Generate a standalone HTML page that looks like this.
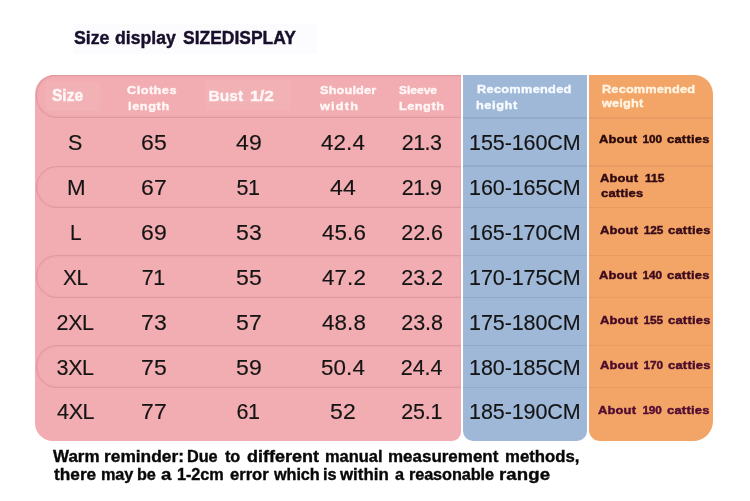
<!DOCTYPE html>
<html lang="en">
<head>
<meta charset="utf-8">
<title>Size display</title>
<style>
html,body{margin:0;padding:0;background:#fff;}
body{width:750px;height:501px;position:relative;overflow:hidden;font-family:'Liberation Sans',sans-serif;}
.abs{position:absolute;}
.g{margin:0;padding:0;font:inherit;}
.t{display:block;position:absolute;white-space:nowrap;line-height:normal;transform-origin:0 0;}
#titlebg{left:73px;top:24px;width:244px;height:30px;background:#fcfbfd;}
#pink{left:35.3px;top:75.3px;width:425.5px;height:365.3px;background:#f1adb1;border-radius:19px 0 9px 18px;}
#blue{left:463px;top:75.4px;width:123.9px;height:365.3px;background:#9fb8d8;border-radius:0 0 10px 10px;}
#orange{left:589.2px;top:75.3px;width:123.5px;height:365.3px;background:#f3a568;border-radius:0 19px 20px 11px;}
.pill{position:absolute;left:35.8px;width:425px;box-sizing:border-box;border:1px solid #e1979e;border-right:none;border-radius:21px 0 0 21px;box-shadow:inset 0 0 2px rgba(222,140,148,.45);}
.hl{position:absolute;height:1.3px;}
</style>
</head>
<body>
<div class="abs" id="titlebg"></div>
<div class="abs" id="pink"></div>
<div class="abs" id="blue"></div>
<div class="abs" id="orange"></div>
<div class="abs" style="left:46px;top:82px;width:54px;height:29px;background:rgba(255,255,255,.05)"></div>
<div class="abs" style="left:206px;top:80px;width:84px;height:30px;background:rgba(255,255,255,.05)"></div>
<div class="pill" style="top:75.3px;height:43.0px;border-top-left-radius:19px"></div>
<div class="pill" style="top:165.6px;height:42.5px"></div>
<div class="pill" style="top:255.3px;height:42.8px"></div>
<div class="pill" style="top:345.3px;height:42.8px"></div>
<div class="hl" style="left:463px;width:124px;top:117.25px;background:#94aaca"></div>
<div class="hl" style="left:589.3px;width:123.5px;top:117.25px;background:#e69c62"></div>
<div class="hl" style="left:463px;width:124px;top:165.45px;background:#94aaca"></div>
<div class="hl" style="left:589.3px;width:123.5px;top:165.45px;background:#e69c62"></div>
<div class="hl" style="left:463px;width:124px;top:207.05px;background:#94aaca"></div>
<div class="hl" style="left:589.3px;width:123.5px;top:207.05px;background:#e69c62"></div>
<div class="hl" style="left:463px;width:124px;top:255.15px;background:#94aaca"></div>
<div class="hl" style="left:589.3px;width:123.5px;top:255.15px;background:#e69c62"></div>
<div class="hl" style="left:463px;width:124px;top:297.05px;background:#94aaca"></div>
<div class="hl" style="left:589.3px;width:123.5px;top:297.05px;background:#e69c62"></div>
<div class="hl" style="left:463px;width:124px;top:345.15px;background:#94aaca"></div>
<div class="hl" style="left:589.3px;width:123.5px;top:345.15px;background:#e69c62"></div>
<div class="hl" style="left:463px;width:124px;top:387.05px;background:#94aaca"></div>
<div class="hl" style="left:589.3px;width:123.5px;top:387.05px;background:#e69c62"></div>
<h1 class="g">
<span class="t" style="left:74.10px;top:27.80px;font-size:17.6px;font-weight:700;letter-spacing:0.0px;color:#180f2c;transform:scaleX(1.006);-webkit-text-stroke:0.4px #180f2c">Size</span> 
<span class="t" style="left:114.95px;top:27.80px;font-size:17.6px;font-weight:700;letter-spacing:0.0px;color:#180f2c;transform:scaleX(1.005);-webkit-text-stroke:0.4px #180f2c">display</span> 
<span class="t" style="left:182.50px;top:27.80px;font-size:17.6px;font-weight:700;letter-spacing:0.0px;color:#180f2c;transform:scaleX(0.993);-webkit-text-stroke:0.4px #180f2c">SIZEDISPLAY</span>
</h1>
<div class="g">
<span class="t" style="left:51.70px;top:86.90px;font-size:16px;font-weight:700;letter-spacing:0.0px;color:#fff6f6;transform:scaleX(0.969);-webkit-text-stroke:0.45px #fff6f6">Size</span> 
<span class="t" style="left:127.35px;top:82.70px;font-size:11.6px;font-weight:700;letter-spacing:0.41px;color:#fff6f6;transform:scaleX(1.1);-webkit-text-stroke:0.38px #fff6f6">Clothes</span> 
<span class="t" style="left:128.10px;top:98.50px;font-size:11.6px;font-weight:700;letter-spacing:0.53px;color:#fff6f6;transform:scaleX(1.1);-webkit-text-stroke:0.38px #fff6f6">length</span> 
<span class="t" style="left:208.60px;top:86.80px;font-size:15.5px;font-weight:700;letter-spacing:0.0px;color:#fff6f6;-webkit-text-stroke:0.45px #fff6f6">Bust</span> 
<span class="t" style="left:250.20px;top:86.80px;font-size:15.5px;font-weight:700;letter-spacing:0.0px;color:#fff6f6;transform:scaleX(1.109);-webkit-text-stroke:0.45px #fff6f6">1/2</span> 
<span class="t" style="left:319.60px;top:82.70px;font-size:11.6px;font-weight:700;letter-spacing:0.12px;color:#fff6f6;transform:scaleX(1.1);-webkit-text-stroke:0.38px #fff6f6">Shoulder</span> 
<span class="t" style="left:319.50px;top:98.50px;font-size:11.6px;font-weight:700;letter-spacing:1.09px;color:#fff6f6;transform:scaleX(1.1);-webkit-text-stroke:0.38px #fff6f6">width</span> 
<span class="t" style="left:399.05px;top:82.70px;font-size:11.6px;font-weight:700;letter-spacing:0.0px;color:#fff6f6;transform:scaleX(1.035);-webkit-text-stroke:0.38px #fff6f6">Sleeve</span> 
<span class="t" style="left:399.05px;top:98.50px;font-size:11.6px;font-weight:700;letter-spacing:0.44px;color:#fff6f6;transform:scaleX(1.1);-webkit-text-stroke:0.38px #fff6f6">Length</span> 
<span class="t" style="left:476.85px;top:81.90px;font-size:11.6px;font-weight:700;letter-spacing:0.27px;color:#f8fbff;transform:scaleX(1.1);-webkit-text-stroke:0.38px #f8fbff">Recommended</span> 
<span class="t" style="left:476.40px;top:97.80px;font-size:11.6px;font-weight:700;letter-spacing:0.53px;color:#f8fbff;transform:scaleX(1.1);-webkit-text-stroke:0.38px #f8fbff">height</span> 
<span class="t" style="left:602.45px;top:81.80px;font-size:11.6px;font-weight:700;letter-spacing:0.15px;color:#fff4e2;transform:scaleX(1.1);-webkit-text-stroke:0.38px #fff4e2">Recommended</span> 
<span class="t" style="left:602.30px;top:96.20px;font-size:11.6px;font-weight:700;letter-spacing:0.16px;color:#fff4e2;transform:scaleX(1.1);-webkit-text-stroke:0.38px #fff4e2">weight</span>
</div>
<div class="g">
<span class="t" style="left:68.10px;top:131.00px;font-size:21.5px;font-weight:400;letter-spacing:0px;color:#141414;-webkit-text-stroke:0.15px #141414">S</span> 
<span class="t" style="left:140.80px;top:131.00px;font-size:21.5px;font-weight:400;letter-spacing:0.2px;color:#141414;transform:scaleX(1.07);-webkit-text-stroke:0.15px #141414">65</span> 
<span class="t" style="left:236.10px;top:131.00px;font-size:21.5px;font-weight:400;letter-spacing:0.2px;color:#141414;transform:scaleX(1.07);-webkit-text-stroke:0.15px #141414">49</span> 
<span class="t" style="left:321.30px;top:131.00px;font-size:21.5px;font-weight:400;letter-spacing:0.1px;color:#141414;transform:scaleX(1.04);-webkit-text-stroke:0.15px #141414">42.4</span> 
<span class="t" style="left:401.70px;top:131.00px;font-size:21.5px;font-weight:400;letter-spacing:-0.5px;color:#141414;-webkit-text-stroke:0.15px #141414">21.3</span> 
<span class="t" style="left:469.10px;top:131.00px;font-size:21.5px;font-weight:400;letter-spacing:-0.1px;color:#141414;-webkit-text-stroke:0.15px #141414">155-160CM</span> 
<span class="t" style="left:598.50px;top:132.30px;font-size:11.8px;font-weight:700;letter-spacing:0.11px;color:#2a0a0c;transform:scaleX(1.1);-webkit-text-stroke:0.42px #2a0a0c">About</span> 
<span class="t" style="left:642.50px;top:132.30px;font-size:11.8px;font-weight:700;letter-spacing:-0.1px;color:#2a0a0c;-webkit-text-stroke:0.42px #2a0a0c">100</span> 
<span class="t" style="left:667.20px;top:132.30px;font-size:11.8px;font-weight:700;letter-spacing:0.2px;color:#2a0a0c;transform:scaleX(1.1);-webkit-text-stroke:0.42px #2a0a0c">catties</span>
</div>
<div class="g">
<span class="t" style="left:66.60px;top:175.60px;font-size:21.5px;font-weight:400;letter-spacing:0px;color:#141414;transform:scaleX(1.04);-webkit-text-stroke:0.15px #141414">M</span> 
<span class="t" style="left:140.80px;top:175.60px;font-size:21.5px;font-weight:400;letter-spacing:0.2px;color:#141414;transform:scaleX(1.07);-webkit-text-stroke:0.15px #141414">67</span> 
<span class="t" style="left:236.60px;top:175.60px;font-size:21.5px;font-weight:400;letter-spacing:-0.6px;color:#141414;-webkit-text-stroke:0.15px #141414">51</span> 
<span class="t" style="left:330.30px;top:175.60px;font-size:21.5px;font-weight:400;letter-spacing:0.2px;color:#141414;transform:scaleX(1.07);-webkit-text-stroke:0.15px #141414">44</span> 
<span class="t" style="left:401.70px;top:175.60px;font-size:21.5px;font-weight:400;letter-spacing:-0.5px;color:#141414;-webkit-text-stroke:0.15px #141414">21.9</span> 
<span class="t" style="left:469.10px;top:175.60px;font-size:21.5px;font-weight:400;letter-spacing:-0.1px;color:#141414;-webkit-text-stroke:0.15px #141414">160-165CM</span> 
<span class="t" style="left:600.30px;top:171.10px;font-size:11.8px;font-weight:700;letter-spacing:0.11px;color:#300a11;transform:scaleX(1.1);-webkit-text-stroke:0.42px #300a11">About</span> 
<span class="t" style="left:644.55px;top:171.10px;font-size:11.8px;font-weight:700;letter-spacing:0.0px;color:#300a11;transform:scaleX(1.016);-webkit-text-stroke:0.42px #300a11">115</span> 
<span class="t" style="left:600.70px;top:186.40px;font-size:11.8px;font-weight:700;letter-spacing:0.17px;color:#320a14;transform:scaleX(1.1);-webkit-text-stroke:0.42px #320a14">catties</span>
</div>
<div class="g">
<span class="t" style="left:69.60px;top:220.90px;font-size:21.5px;font-weight:400;letter-spacing:0px;color:#141414;transform:scaleX(0.97);-webkit-text-stroke:0.15px #141414">L</span> 
<span class="t" style="left:140.80px;top:220.90px;font-size:21.5px;font-weight:400;letter-spacing:0.2px;color:#141414;transform:scaleX(1.07);-webkit-text-stroke:0.15px #141414">69</span> 
<span class="t" style="left:235.60px;top:220.90px;font-size:21.5px;font-weight:400;letter-spacing:0.2px;color:#141414;transform:scaleX(1.07);-webkit-text-stroke:0.15px #141414">53</span> 
<span class="t" style="left:321.80px;top:220.90px;font-size:21.5px;font-weight:400;letter-spacing:0.1px;color:#141414;transform:scaleX(1.04);-webkit-text-stroke:0.15px #141414">45.6</span> 
<span class="t" style="left:401.20px;top:220.90px;font-size:21.5px;font-weight:400;letter-spacing:0.0px;color:#141414;-webkit-text-stroke:0.15px #141414">22.6</span> 
<span class="t" style="left:469.10px;top:220.90px;font-size:21.5px;font-weight:400;letter-spacing:-0.1px;color:#141414;-webkit-text-stroke:0.15px #141414">165-170CM</span> 
<span class="t" style="left:599.80px;top:222.80px;font-size:11.8px;font-weight:700;letter-spacing:0.11px;color:#370b19;transform:scaleX(1.1);-webkit-text-stroke:0.42px #370b19">About</span> 
<span class="t" style="left:643.80px;top:222.80px;font-size:11.8px;font-weight:700;letter-spacing:-0.1px;color:#370b19;-webkit-text-stroke:0.42px #370b19">125</span> 
<span class="t" style="left:667.50px;top:222.80px;font-size:11.8px;font-weight:700;letter-spacing:0.2px;color:#370b19;transform:scaleX(1.1);-webkit-text-stroke:0.42px #370b19">catties</span>
</div>
<div class="g">
<span class="t" style="left:63.10px;top:265.90px;font-size:21.5px;font-weight:400;letter-spacing:-0.3px;color:#141414;transform:scaleX(0.97);-webkit-text-stroke:0.15px #141414">XL</span> 
<span class="t" style="left:141.80px;top:265.90px;font-size:21.5px;font-weight:400;letter-spacing:-0.6px;color:#141414;-webkit-text-stroke:0.15px #141414">71</span> 
<span class="t" style="left:235.60px;top:265.90px;font-size:21.5px;font-weight:400;letter-spacing:0.2px;color:#141414;transform:scaleX(1.07);-webkit-text-stroke:0.15px #141414">55</span> 
<span class="t" style="left:321.80px;top:265.90px;font-size:21.5px;font-weight:400;letter-spacing:0.1px;color:#141414;transform:scaleX(1.04);-webkit-text-stroke:0.15px #141414">47.2</span> 
<span class="t" style="left:401.20px;top:265.90px;font-size:21.5px;font-weight:400;letter-spacing:0.0px;color:#141414;-webkit-text-stroke:0.15px #141414">23.2</span> 
<span class="t" style="left:469.10px;top:265.90px;font-size:21.5px;font-weight:400;letter-spacing:-0.1px;color:#141414;-webkit-text-stroke:0.15px #141414">170-175CM</span> 
<span class="t" style="left:598.50px;top:267.80px;font-size:11.8px;font-weight:700;letter-spacing:0.11px;color:#3e0b1f;transform:scaleX(1.1);-webkit-text-stroke:0.42px #3e0b1f">About</span> 
<span class="t" style="left:642.50px;top:267.80px;font-size:11.8px;font-weight:700;letter-spacing:-0.1px;color:#3e0b1f;-webkit-text-stroke:0.42px #3e0b1f">140</span> 
<span class="t" style="left:666.80px;top:267.80px;font-size:11.8px;font-weight:700;letter-spacing:0.2px;color:#3e0b1f;transform:scaleX(1.1);-webkit-text-stroke:0.42px #3e0b1f">catties</span>
</div>
<div class="g">
<span class="t" style="left:56.60px;top:310.80px;font-size:21.5px;font-weight:400;letter-spacing:-0.4px;color:#141414;-webkit-text-stroke:0.15px #141414">2XL</span> 
<span class="t" style="left:140.80px;top:310.80px;font-size:21.5px;font-weight:400;letter-spacing:0.2px;color:#141414;transform:scaleX(1.07);-webkit-text-stroke:0.15px #141414">73</span> 
<span class="t" style="left:235.60px;top:310.80px;font-size:21.5px;font-weight:400;letter-spacing:0.2px;color:#141414;transform:scaleX(1.07);-webkit-text-stroke:0.15px #141414">57</span> 
<span class="t" style="left:321.80px;top:310.80px;font-size:21.5px;font-weight:400;letter-spacing:0.1px;color:#141414;transform:scaleX(1.04);-webkit-text-stroke:0.15px #141414">48.8</span> 
<span class="t" style="left:401.20px;top:310.80px;font-size:21.5px;font-weight:400;letter-spacing:0.0px;color:#141414;-webkit-text-stroke:0.15px #141414">23.8</span> 
<span class="t" style="left:469.10px;top:310.80px;font-size:21.5px;font-weight:400;letter-spacing:-0.1px;color:#141414;-webkit-text-stroke:0.15px #141414">175-180CM</span> 
<span class="t" style="left:599.60px;top:312.80px;font-size:11.8px;font-weight:700;letter-spacing:0.11px;color:#450b25;transform:scaleX(1.1);-webkit-text-stroke:0.42px #450b25">About</span> 
<span class="t" style="left:643.60px;top:312.80px;font-size:11.8px;font-weight:700;letter-spacing:-0.1px;color:#450b25;-webkit-text-stroke:0.42px #450b25">155</span> 
<span class="t" style="left:667.50px;top:312.80px;font-size:11.8px;font-weight:700;letter-spacing:0.2px;color:#450b25;transform:scaleX(1.1);-webkit-text-stroke:0.42px #450b25">catties</span>
</div>
<div class="g">
<span class="t" style="left:56.60px;top:355.90px;font-size:21.5px;font-weight:400;letter-spacing:-0.4px;color:#141414;-webkit-text-stroke:0.15px #141414">3XL</span> 
<span class="t" style="left:140.80px;top:355.90px;font-size:21.5px;font-weight:400;letter-spacing:0.2px;color:#141414;transform:scaleX(1.07);-webkit-text-stroke:0.15px #141414">75</span> 
<span class="t" style="left:235.60px;top:355.90px;font-size:21.5px;font-weight:400;letter-spacing:0.2px;color:#141414;transform:scaleX(1.07);-webkit-text-stroke:0.15px #141414">59</span> 
<span class="t" style="left:320.80px;top:355.90px;font-size:21.5px;font-weight:400;letter-spacing:0.1px;color:#141414;transform:scaleX(1.04);-webkit-text-stroke:0.15px #141414">50.4</span> 
<span class="t" style="left:400.70px;top:355.90px;font-size:21.5px;font-weight:400;letter-spacing:0.0px;color:#141414;-webkit-text-stroke:0.15px #141414">24.4</span> 
<span class="t" style="left:469.10px;top:355.90px;font-size:21.5px;font-weight:400;letter-spacing:-0.1px;color:#141414;-webkit-text-stroke:0.15px #141414">180-185CM</span> 
<span class="t" style="left:599.60px;top:357.80px;font-size:11.8px;font-weight:700;letter-spacing:0.11px;color:#4b0c2c;transform:scaleX(1.1);-webkit-text-stroke:0.42px #4b0c2c">About</span> 
<span class="t" style="left:643.60px;top:357.80px;font-size:11.8px;font-weight:700;letter-spacing:-0.1px;color:#4b0c2c;-webkit-text-stroke:0.42px #4b0c2c">170</span> 
<span class="t" style="left:667.50px;top:357.80px;font-size:11.8px;font-weight:700;letter-spacing:0.2px;color:#4b0c2c;transform:scaleX(1.1);-webkit-text-stroke:0.42px #4b0c2c">catties</span>
</div>
<div class="g">
<span class="t" style="left:57.10px;top:400.40px;font-size:21.5px;font-weight:400;letter-spacing:-0.4px;color:#141414;-webkit-text-stroke:0.15px #141414">4XL</span> 
<span class="t" style="left:140.80px;top:400.40px;font-size:21.5px;font-weight:400;letter-spacing:0.2px;color:#141414;transform:scaleX(1.07);-webkit-text-stroke:0.15px #141414">77</span> 
<span class="t" style="left:236.60px;top:400.40px;font-size:21.5px;font-weight:400;letter-spacing:-0.6px;color:#141414;-webkit-text-stroke:0.15px #141414">61</span> 
<span class="t" style="left:330.30px;top:400.40px;font-size:21.5px;font-weight:400;letter-spacing:0.2px;color:#141414;transform:scaleX(1.07);-webkit-text-stroke:0.15px #141414">52</span> 
<span class="t" style="left:401.20px;top:400.40px;font-size:21.5px;font-weight:400;letter-spacing:-0.2px;color:#141414;-webkit-text-stroke:0.15px #141414">25.1</span> 
<span class="t" style="left:469.10px;top:400.40px;font-size:21.5px;font-weight:400;letter-spacing:-0.1px;color:#141414;-webkit-text-stroke:0.15px #141414">185-190CM</span> 
<span class="t" style="left:598.40px;top:402.50px;font-size:11.8px;font-weight:700;letter-spacing:0.11px;color:#520c32;transform:scaleX(1.1);-webkit-text-stroke:0.42px #520c32">About</span> 
<span class="t" style="left:642.40px;top:402.50px;font-size:11.8px;font-weight:700;letter-spacing:-0.1px;color:#520c32;-webkit-text-stroke:0.42px #520c32">190</span> 
<span class="t" style="left:666.70px;top:402.50px;font-size:11.8px;font-weight:700;letter-spacing:0.2px;color:#520c32;transform:scaleX(1.1);-webkit-text-stroke:0.42px #520c32">catties</span>
</div>
<p class="g">
<span class="t" style="left:52.80px;top:447.60px;font-size:15.8px;font-weight:700;letter-spacing:0.0px;color:#080808;transform:scaleX(1.074);-webkit-text-stroke:0.35px #080808">Warm</span> 
<span class="t" style="left:103.50px;top:447.60px;font-size:15.8px;font-weight:700;letter-spacing:0.0px;color:#080808;transform:scaleX(1.097);-webkit-text-stroke:0.35px #080808">reminder:</span> 
<span class="t" style="left:187.00px;top:447.60px;font-size:15.8px;font-weight:700;letter-spacing:-0.1px;color:#080808;transform:scaleX(1.03);-webkit-text-stroke:0.35px #080808">Due</span> 
<span class="t" style="left:224.50px;top:447.60px;font-size:15.8px;font-weight:700;letter-spacing:-0.1px;color:#080808;transform:scaleX(1.03);-webkit-text-stroke:0.35px #080808">to</span> 
<span class="t" style="left:246.50px;top:447.60px;font-size:15.8px;font-weight:700;letter-spacing:0.0px;color:#080808;transform:scaleX(1.141);-webkit-text-stroke:0.35px #080808">different</span> 
<span class="t" style="left:324.50px;top:447.60px;font-size:15.8px;font-weight:700;letter-spacing:-0.0px;color:#080808;transform:scaleX(1.04);-webkit-text-stroke:0.35px #080808">manual</span> 
<span class="t" style="left:387.70px;top:447.60px;font-size:15.8px;font-weight:700;letter-spacing:0.0px;color:#080808;transform:scaleX(1.074);-webkit-text-stroke:0.35px #080808">measurement</span> 
<span class="t" style="left:504.60px;top:447.60px;font-size:15.8px;font-weight:700;letter-spacing:0.0px;color:#080808;transform:scaleX(1.06);-webkit-text-stroke:0.35px #080808">methods,</span>
</p>
<p class="g">
<span class="t" style="left:53.70px;top:466.20px;font-size:15.8px;font-weight:700;letter-spacing:0.0px;color:#080808;transform:scaleX(1.092);-webkit-text-stroke:0.35px #080808">there</span> 
<span class="t" style="left:101.00px;top:466.20px;font-size:15.8px;font-weight:700;letter-spacing:-0.1px;color:#080808;transform:scaleX(1.03);-webkit-text-stroke:0.35px #080808">may</span> 
<span class="t" style="left:137.30px;top:466.20px;font-size:15.8px;font-weight:700;letter-spacing:-0.1px;color:#080808;transform:scaleX(1.03);-webkit-text-stroke:0.35px #080808">be</span> 
<span class="t" style="left:160.50px;top:466.20px;font-size:15.8px;font-weight:700;letter-spacing:0px;color:#080808;transform:scaleX(1.18);-webkit-text-stroke:0.35px #080808">a</span> 
<span class="t" style="left:177.00px;top:466.20px;font-size:15.8px;font-weight:700;letter-spacing:-0.08px;color:#080808;transform:scaleX(1.03);-webkit-text-stroke:0.35px #080808">1-2cm</span> 
<span class="t" style="left:229.50px;top:466.20px;font-size:15.8px;font-weight:700;letter-spacing:0.0px;color:#080808;transform:scaleX(1.049);-webkit-text-stroke:0.35px #080808">error</span> 
<span class="t" style="left:274.00px;top:466.20px;font-size:15.8px;font-weight:700;letter-spacing:-0.08px;color:#080808;transform:scaleX(1.03);-webkit-text-stroke:0.35px #080808">which</span> 
<span class="t" style="left:323.00px;top:466.20px;font-size:15.8px;font-weight:700;letter-spacing:-0.1px;color:#080808;transform:scaleX(1.03);-webkit-text-stroke:0.35px #080808">is</span> 
<span class="t" style="left:340.40px;top:466.20px;font-size:15.8px;font-weight:700;letter-spacing:0.0px;color:#080808;transform:scaleX(1.067);-webkit-text-stroke:0.35px #080808">within</span> 
<span class="t" style="left:394.80px;top:466.20px;font-size:15.8px;font-weight:700;letter-spacing:0px;color:#080808;transform:scaleX(1.03);-webkit-text-stroke:0.35px #080808">a</span> 
<span class="t" style="left:409.00px;top:466.20px;font-size:15.8px;font-weight:700;letter-spacing:-0.1px;color:#080808;transform:scaleX(1.03);-webkit-text-stroke:0.35px #080808">reasonable</span> 
<span class="t" style="left:499.10px;top:466.20px;font-size:15.8px;font-weight:700;letter-spacing:0.06px;color:#080808;transform:scaleX(1.18);-webkit-text-stroke:0.35px #080808">range</span>
</p>
</body>
</html>
